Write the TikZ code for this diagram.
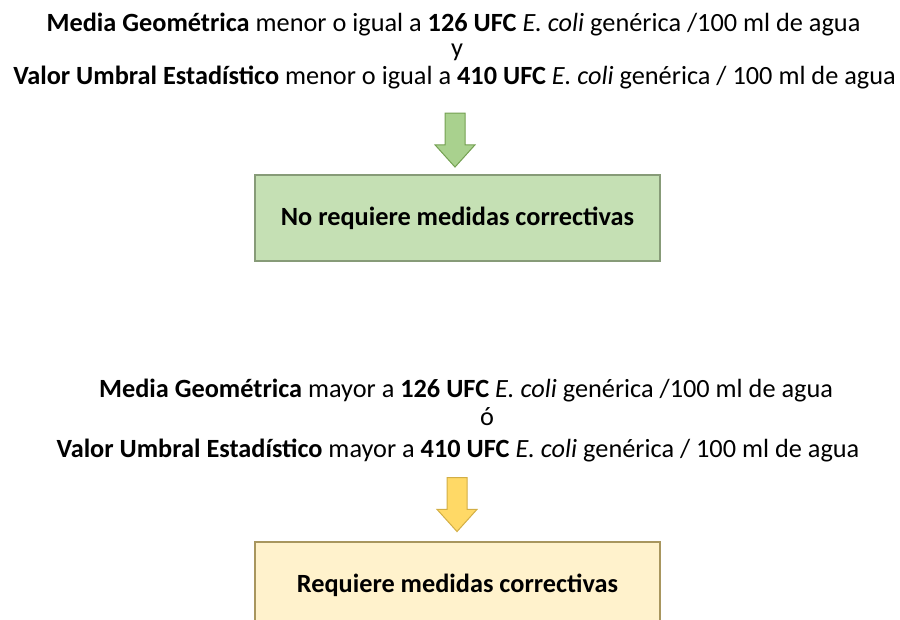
\documentclass[tikz,border=0pt]{standalone}
\usepackage{fontspec}
\setmainfont{Carlito}
\usetikzlibrary{positioning,shapes.arrows}

\definecolor{okfill}{HTML}{C5E0B4}
\definecolor{okline}{HTML}{879B78}
\definecolor{okarrow}{HTML}{A9D18E}
\definecolor{okarrowline}{HTML}{74A052}
\definecolor{badfill}{HTML}{FFF2CC}
\definecolor{badline}{HTML}{A8965E}
\definecolor{badarrow}{HTML}{FFD966}
\definecolor{badarrowline}{HTML}{D2AE45}

\begin{document}
\begin{tikzpicture}[
    x=1pt,y=-1pt,
    cond/.style={
      inner sep=0pt,anchor=base,font=\fontsize{26.3}{28}\selectfont
    },
    result/.style={
      draw,line width=1.2pt,minimum width=405pt,minimum height=86pt,
      font=\fontsize{26.3}{28}\selectfont\bfseries
    },
    blockarrow/.style={
      single arrow,shape border rotate=270,draw,line width=1pt,
      inner sep=9.5pt,minimum width=39pt,minimum height=54pt,
      single arrow head extend=10pt,single arrow tip angle=84
    }
  ]
  \useasboundingbox (0,0) rectangle (900,620);

  % no corrective measures
  \node (mg1) [cond] at (453.5,32) {\textbf{Media Geométrica} menor o igual a \textbf{126 UFC} \textit{E. coli} genérica /100 ml de agua};
  \node (y)   [cond] at (457,57)   {y};
  \node (vu1) [cond] at (454.5,85) {\textbf{Valor Umbral Estadístico} menor o igual a \textbf{410 UFC} \textit{E. coli} genérica / 100 ml de agua};
  \node (ga)  [blockarrow,fill=okarrow,draw=okarrowline] at (455,134.5) {};
  \node (ok)  [result,fill=okfill,draw=okline] at (457.5,218) {No requiere medidas correctivas};

  % corrective measures
  \node (mg2) [cond] at (466,397)  {\textbf{Media Geométrica} mayor a \textbf{126 UFC} \textit{E. coli} genérica /100 ml de agua};
  \node (o)   [cond] at (487,425)  {ó};
  \node (vu2) [cond] at (458,457)  {\textbf{Valor Umbral Estadístico} mayor a \textbf{410 UFC} \textit{E. coli} genérica / 100 ml de agua};
  \node (ya)  [blockarrow,fill=badarrow,draw=badarrowline] at (457,499) {};
  \node (bad) [result,fill=badfill,draw=badline] at (457.5,585) {Requiere medidas correctivas};
\end{tikzpicture}
\end{document}
